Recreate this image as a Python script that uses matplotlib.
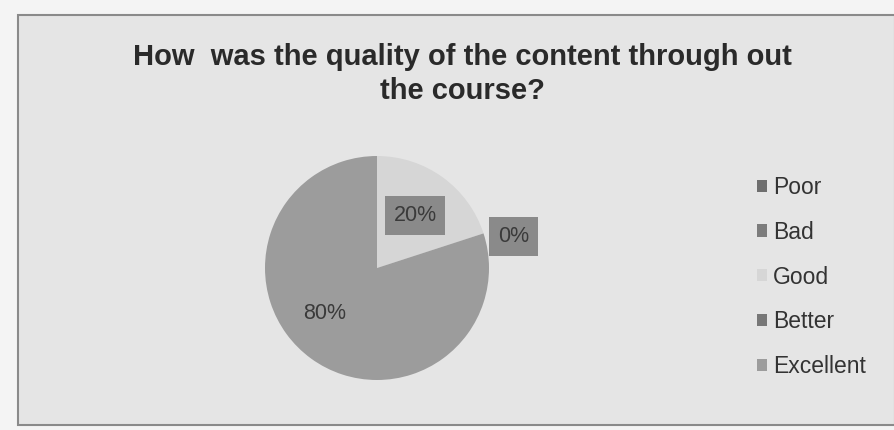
import matplotlib
matplotlib.use("Agg")
import matplotlib.pyplot as plt
import numpy as np
from matplotlib.patches import Rectangle

title = "How  was the quality of the content through out\nthe course?"
categories = ["Poor", "Bad", "Good", "Better", "Excellent"]
values = [0, 0, 20, 0, 80]
colors = ["#6e6e6e", "#7c7c7c", "#d6d6d6", "#777777", "#9c9c9c"]
label_text = ["", "", "20%", "0%", "80%"]

plt.rcParams['font.family'] = ['Liberation Sans', 'DejaVu Sans']

fig = plt.figure(figsize=(8.95, 4.3), dpi=100)
fig.patch.set_facecolor("#f4f4f4")

# chart area background with border
W, H = 895, 430
bg = Rectangle((18 / W, 5 / H), (W - 18) / W, (415 - 5) / H, transform=fig.transFigure,
               facecolor="#e5e5e5", edgecolor="#8a8a8a", linewidth=1.5, zorder=-10)
fig.patches.append(bg)

fig.text(462 / W, 1 - 74 / H, title, ha="center", va="center", fontsize=21,
         fontweight="bold", color="#2a2a2a", linespacing=1.3)

ax = fig.add_axes([265 / W, 1 - 380 / H, 224 / W, 224 / H])
ax.set_zorder(5)
wedges, _ = ax.pie(values, colors=colors, startangle=90, counterclock=False,
                   radius=1, wedgeprops=dict(linewidth=0))
ax.set_xlim(-1, 1)
ax.set_ylim(-1, 1)
ax.set_aspect("equal")
ax.axis("off")

# data labels
total = sum(values)
cum = 0
dist = {2: 0.58, 3: 1.25, 4: 0.62}
for i, v in enumerate(values):
    start = 90 - cum / total * 360
    cum += v
    end = 90 - cum / total * 360
    if not label_text[i]:
        continue
    mid = np.deg2rad((start + end) / 2) if v > 0 else np.deg2rad(start - 5)
    if i == 4:
        mid = np.deg2rad(-139)
    d = dist[i]
    x, y = d * np.cos(mid), d * np.sin(mid)
    bbox = None
    if i in (2, 3):
        bbox = dict(boxstyle="square,pad=0.4", facecolor="#8a8a8a", edgecolor="none")
    ax.text(x, y, label_text[i], ha="center", va="center", fontsize=15.5,
            color="#3a3a3a", bbox=bbox, clip_on=False)

leg = fig.legend(wedges, categories, loc="center left",
                 bbox_to_anchor=(736 / W, 1 - 277 / H), frameon=False,
                 fontsize=16.5, handlelength=0.45, handleheight=0.45,
                 handletextpad=0.25, labelspacing=0.95, labelcolor="#333333")

fig.savefig("out.png", dpi=100, facecolor=fig.get_facecolor())
